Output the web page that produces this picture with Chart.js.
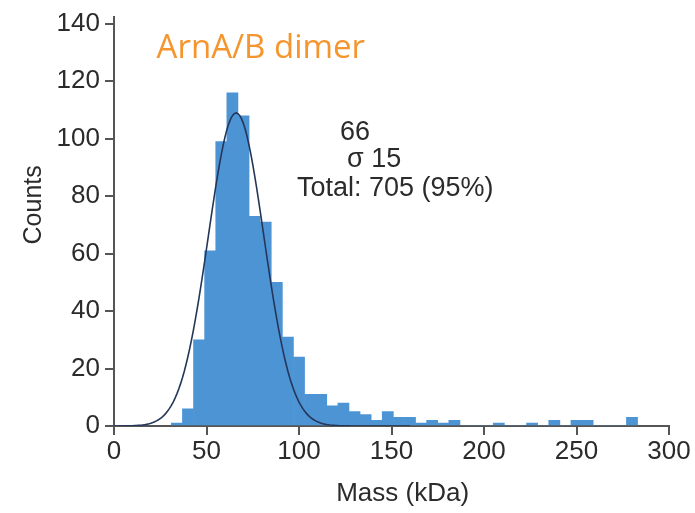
<!DOCTYPE html>
<html>
<head>
<meta charset="utf-8">
<script src="https://cdn.jsdelivr.net/npm/chart.js@4/dist/chart.umd.min.js"></script>
<style>
  html, body { margin: 0; padding: 0; background: #ffffff; }
  #wrap { width: 695px; height: 513px; }
</style>
</head>
<body>
<div id="wrap"><canvas id="chart" width="695" height="513"></canvas></div>
<script>
// Histogram of particle masses (kDa), 6 kDa bins starting at 31 kDa
const binStart = 31;
const binWidth = 6;
const counts = [
  1, 6, 30, 61, 99, 116, 108, 73, 71, 50, 31, 24,
  11, 11, 7, 8, 5, 4, 2, 5, 3, 3, 1, 2, 1, 2,
  0, 0, 0, 1, 0, 0, 1, 0, 2, 0, 2, 2, 0, 0, 0, 3
];

// Gaussian fit parameters
const fitMean = 66;
const fitSigma = 15;
const fitPeak = 109;
const fitRange = [0, 160];

const xTicks = [0, 50, 100, 150, 200, 250, 300];
const yTicks = [0, 20, 40, 60, 80, 100, 120, 140];

const titleText = 'ArnA/B dimer';
const xTitle = 'Mass (kDa)';
const yTitle = 'Counts';
const statLines = ['66', '\u03C3 15', 'Total: 705 (95%)'];

const barColor = '#4d94d5';
const fitColor = '#24375a';
const axisColor = '#555555';
const textColor = '#2b2b2b';
const titleColor = '#f4952d';

const barData = counts.map((c, i) => ({ x: binStart + binWidth * (i + 0.5), y: c }));
const fitData = [];
for (let m = fitRange[0]; m <= fitRange[1]; m += 1) {
  const z = (m - fitMean) / fitSigma;
  fitData.push({ x: m, y: fitPeak * Math.exp(-0.5 * z * z) });
}

// Title, axis titles and fit statistics
const textPlugin = {
  id: 'labels',
  afterDraw(chart) {
    const { ctx, scales: { x, y } } = chart;
    ctx.save();
    ctx.textBaseline = 'middle';
    ctx.textAlign = 'left';
    ctx.fillStyle = titleColor;
    ctx.font = '33px "Open Sans"';
    ctx.fillText(titleText, x.getPixelForValue(23), y.getPixelForValue(131.5));
    ctx.fillStyle = textColor;
    ctx.font = '27px "Liberation Sans"';
    ctx.fillText(statLines[0], x.getPixelForValue(122.2), y.getPixelForValue(102.2));
    ctx.fillText(statLines[1], x.getPixelForValue(126), y.getPixelForValue(92.6));
    ctx.fillText(statLines[2], x.getPixelForValue(98.9), y.getPixelForValue(82.6));

    ctx.textAlign = 'center';
    ctx.font = '26px "Liberation Sans"';
    ctx.fillText(xTitle, x.getPixelForValue(156), 494);
    ctx.save();
    ctx.translate(34, y.getPixelForValue(77));
    ctx.rotate(-Math.PI / 2);
    ctx.font = '25px "Liberation Sans"';
    ctx.fillText(yTitle, 0, 0);
    ctx.restore();
    ctx.restore();
  }
};

new Chart(document.getElementById('chart'), {
  type: 'bar',
  data: {
    datasets: [
      {
        type: 'line',
        data: fitData,
        borderColor: fitColor,
        borderWidth: 1.6,
        pointRadius: 0,
        tension: 0,
        fill: false,
        order: 0
      },
      {
        type: 'bar',
        data: barData,
        backgroundColor: barColor,
        borderWidth: 0,
        barPercentage: 1,
        categoryPercentage: 1,
        order: 1
      }
    ]
  },
  options: {
    responsive: false,
    animation: false,
    events: [],
    layout: { padding: { left: 0, right: 26, top: 12.75, bottom: 0 } },
    plugins: { legend: { display: false }, tooltip: { enabled: false } },
    scales: {
      x: {
        type: 'linear',
        min: 0,
        max: 300,
        offset: false,
        afterFit(scale) { scale.height = 87; },
        afterBuildTicks(scale) { scale.ticks = xTicks.map(v => ({ value: v })); },
        grid: { display: true, offset: false, drawOnChartArea: false, drawTicks: true, tickLength: 9, color: axisColor, lineWidth: 2 },
        border: { display: true, color: axisColor, width: 2 },
        ticks: { color: textColor, padding: 1, maxRotation: 0, font: { family: 'Liberation Sans', size: 26 } }
      },
      y: {
        type: 'linear',
        min: 0,
        max: 142.5,
        afterFit(scale) { scale.width = 114; },
        afterBuildTicks(scale) { scale.ticks = yTicks.map(v => ({ value: v })); },
        grid: { display: true, drawOnChartArea: false, drawTicks: true, tickLength: 9, color: axisColor, lineWidth: 2 },
        border: { display: true, color: axisColor, width: 2 },
        ticks: { color: textColor, padding: 5, font: { family: 'Liberation Sans', size: 26, lineHeight: 0.9 } }
      }
    }
  },
  plugins: [textPlugin]
});
</script>
</body>
</html>
